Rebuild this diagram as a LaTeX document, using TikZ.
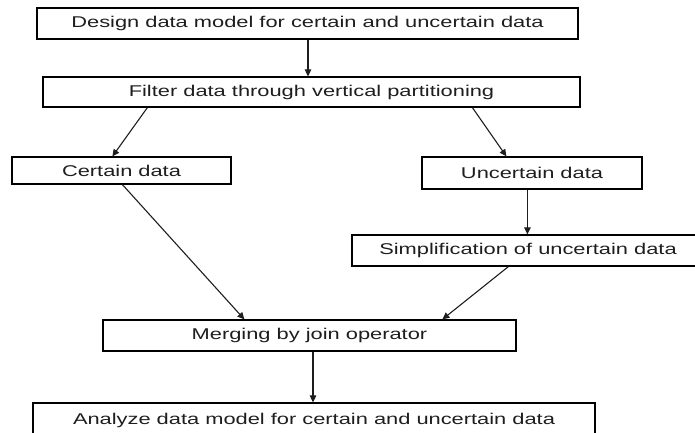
\documentclass[tikz,border=0pt]{standalone}
\usepackage{fontspec}
\setmainfont{Liberation Sans}[FakeStretch=1.4]
\usetikzlibrary{arrows.meta}
\definecolor{ink}{HTML}{1E1E1E}
\tikzset{
  box/.style={draw=black, line width=1.2pt, inner sep=0pt, text=ink,
    font=\fontsize{15.6}{18}\selectfont},
  conn/.style={draw=ink, line width=1.1pt, -{Triangle[length=7pt,width=6.5pt]}}
}
\begin{document}
\begin{tikzpicture}[x=1pt,y=-1pt]
\useasboundingbox (0,0) rectangle (695,433);
\clip (0,0) rectangle (695,433);
\node[box, minimum width=541pt, minimum height=31pt] (a) at (307.5,23.5) {Design data model for certain and uncertain data};
\node[box, minimum width=537pt, minimum height=30pt] (b) at (311.5,92) {Filter data through vertical partitioning};
\node[box, minimum width=219pt, minimum height=27pt] (c) at (121.5,170.5) {Certain data};
\node[box, minimum width=220pt, minimum height=32pt] (d) at (532,173) {Uncertain data};
\node[box, minimum width=352pt, minimum height=31pt] (e) at (528,250.5) {Simplification of uncertain data};
\node[box, minimum width=413pt, minimum height=31pt] (f) at (309.5,335.5) {Merging by join operator};
\node[box, minimum width=562pt, minimum height=34pt] (g) at (314,420) {Analyze data model for certain and uncertain data};
\draw[conn] ([xshift=0.5pt]a.south) -- ([xshift=0.5pt]a.south |- b.north);
\draw[conn] ([xshift=105pt]b.south west) -- ([xshift=101pt]c.north west);
\draw[conn] ([xshift=430pt]b.south west) -- ([xshift=85pt]d.north west);
\draw[conn] ([xshift=106pt]d.south west) -- ([xshift=106pt]d.south west |- e.north);
\draw[conn] ([xshift=111pt]c.south west) -- ([xshift=142pt]f.north west);
\draw[conn] ([xshift=157pt]e.south west) -- ([xshift=340pt]f.north west);
\draw[conn] ([xshift=3.5pt]f.south) -- ([xshift=3.5pt]f.south |- g.north);
\end{tikzpicture}
\end{document}
